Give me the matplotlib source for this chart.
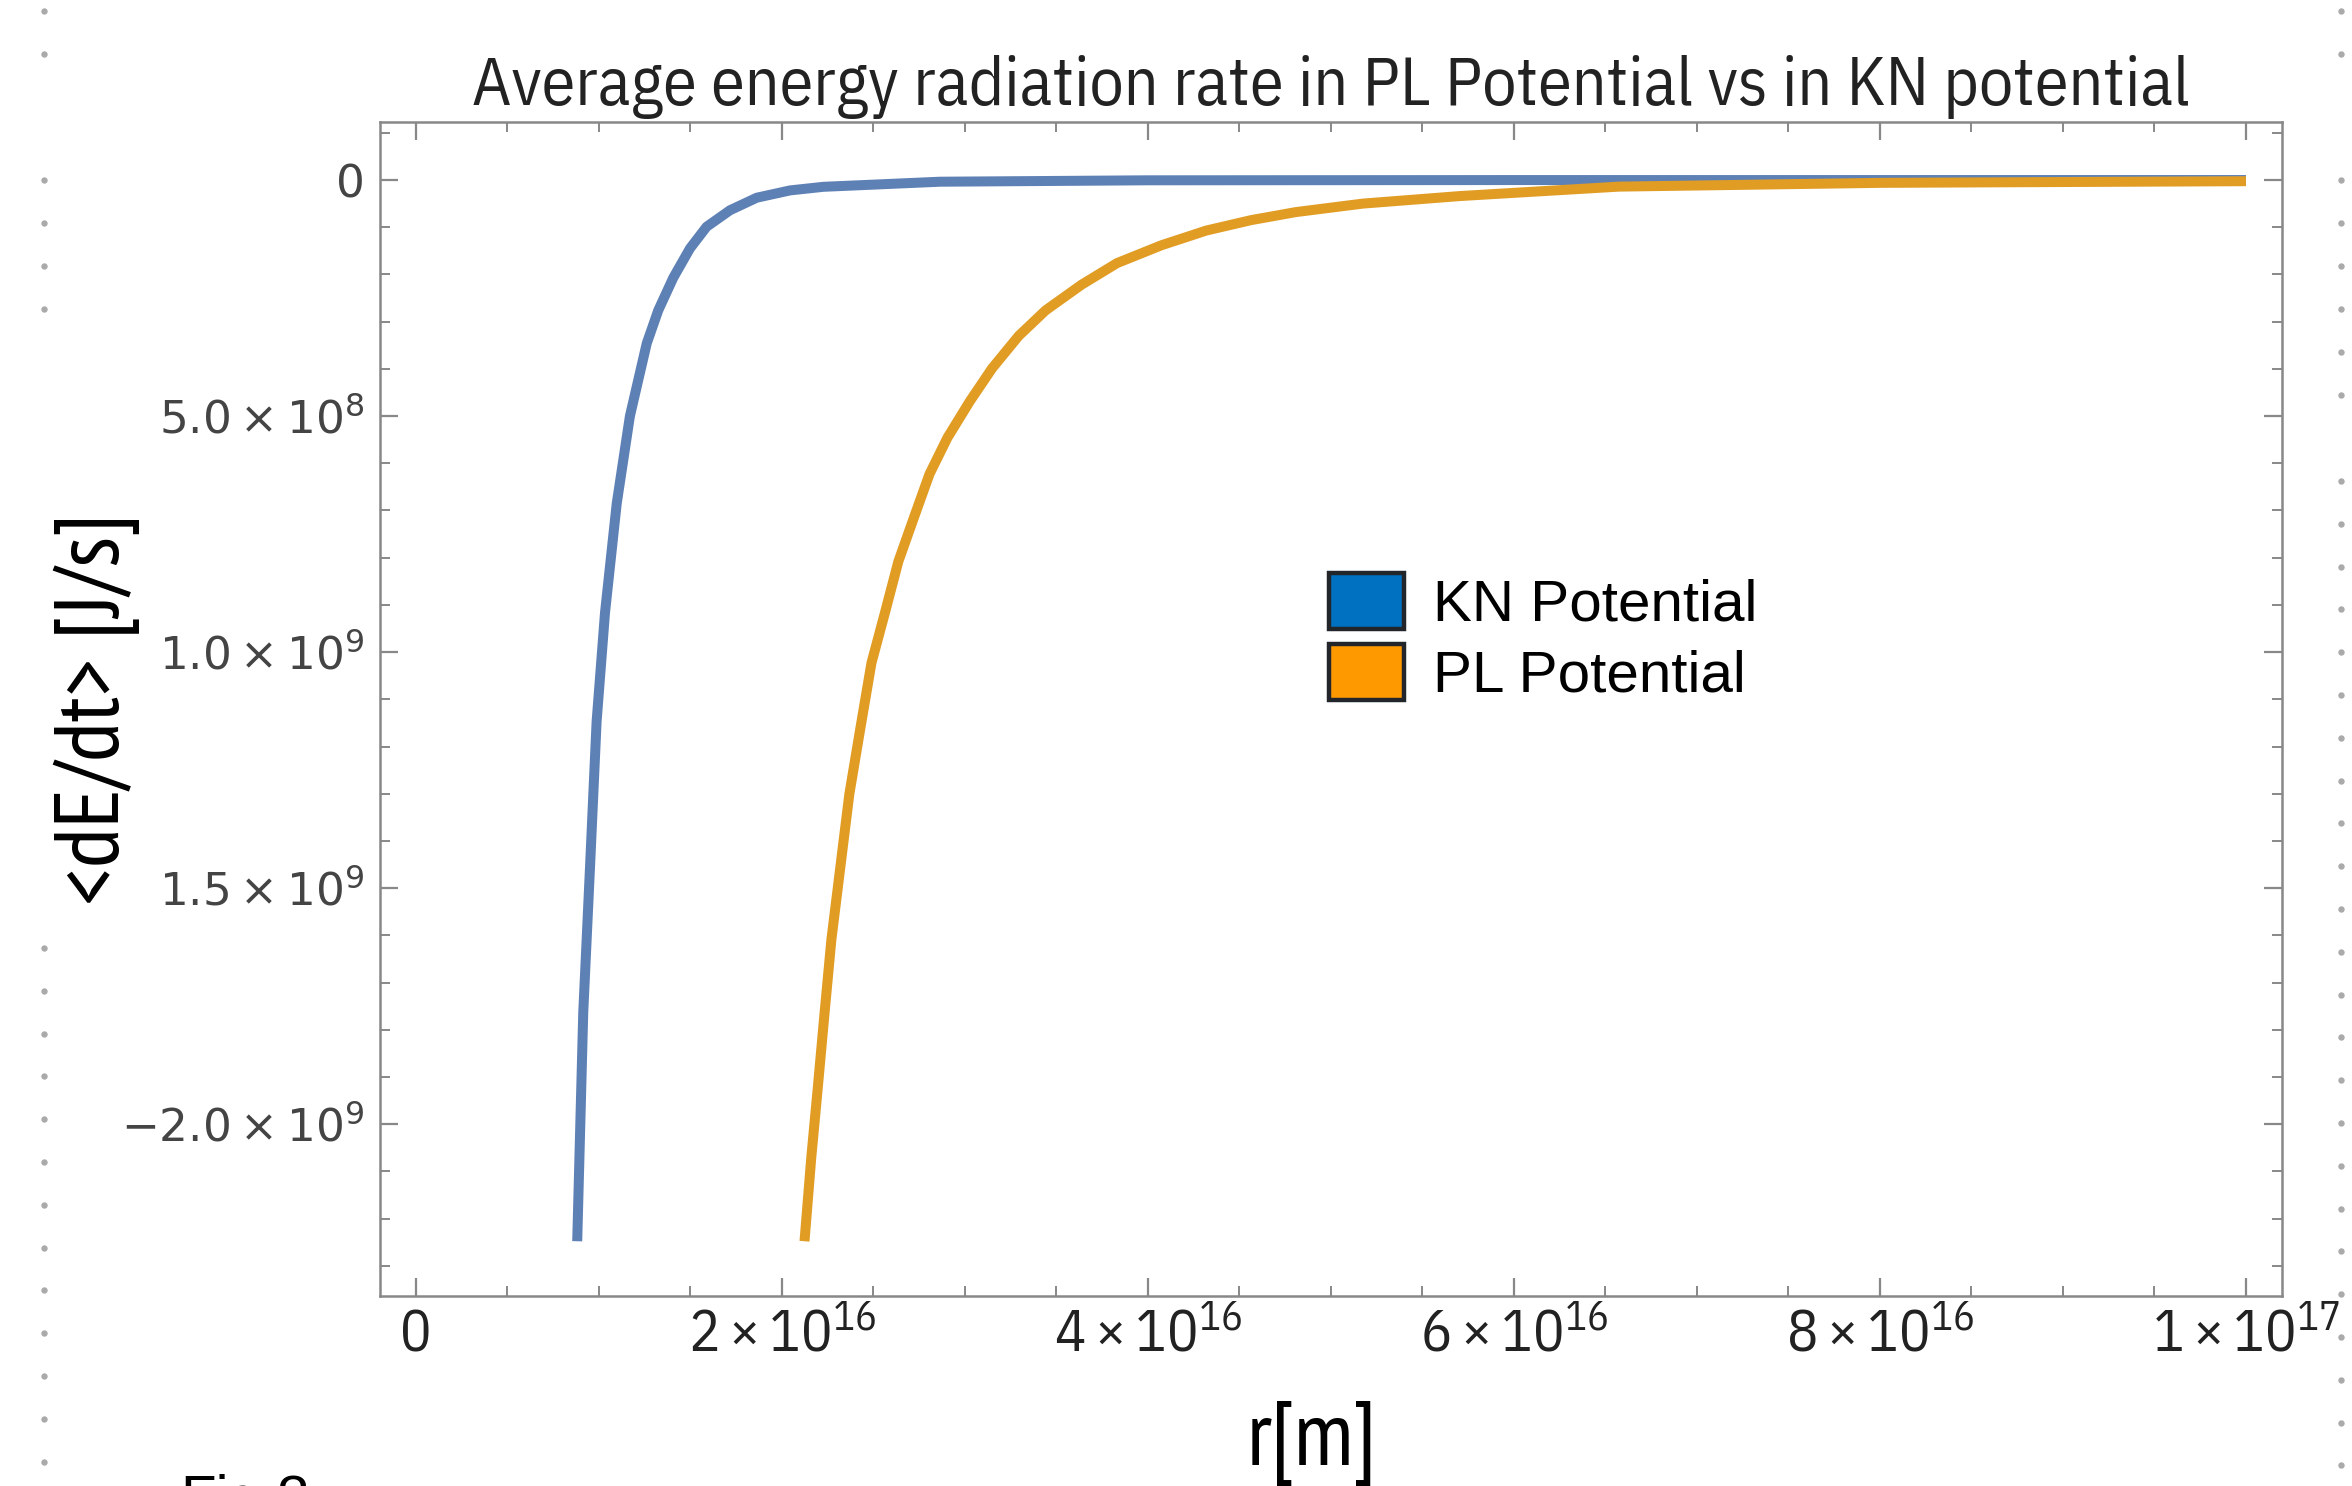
import numpy as np
import matplotlib
matplotlib.use("Agg")
import matplotlib.pyplot as plt
from matplotlib.patches import Patch
from matplotlib.lines import Line2D

# r [m] and <dE/dt> [J/s]
kn_r = [8.81e15, 9.14e15, 9.51e15, 9.87e15, 1.033e16, 1.097e16, 1.169e16, 1.261e16,
        1.324e16, 1.406e16, 1.497e16, 1.588e16, 1.716e16, 1.862e16, 2.044e16, 2.226e16,
        2.863e16, 4.0e16, 6.0e16, 1.0e17]
kn_dedt = [-2.248e9, -1.763e9, -1.455e9, -1.147e9, -9.16e8, -6.85e8, -5.0e8, -3.46e8,
           -2.76e8, -2.07e8, -1.45e8, -9.9e7, -6.4e7, -3.75e7, -2.2e7, -1.44e7,
           -3.6e6, -6e5, -8e4, -5e3]

pl_r = [2.123e16, 2.160e16, 2.197e16, 2.233e16, 2.270e16, 2.319e16, 2.368e16, 2.428e16,
        2.489e16, 2.563e16, 2.636e16, 2.721e16, 2.806e16, 2.904e16, 3.026e16, 3.148e16,
        3.294e16, 3.441e16, 3.636e16, 3.831e16, 4.075e16, 4.319e16, 4.563e16, 4.807e16,
        5.173e16, 5.704e16, 6.573e16, 8.0e16, 1.0e17]
pl_dedt = [-2.248e9, -2.071e9, -1.917e9, -1.763e9, -1.609e9, -1.455e9, -1.301e9, -1.162e9,
           -1.023e9, -9.16e8, -8.08e8, -7.15e8, -6.23e8, -5.46e8, -4.69e8, -3.99e8,
           -3.30e8, -2.76e8, -2.22e8, -1.76e8, -1.38e8, -1.07e8, -8.5e7, -6.8e7,
           -5.0e7, -3.4e7, -1.4e7, -6e6, -2.5e6]

xticks = [0, 2e16, 4e16, 6e16, 8e16, 1e17]
xtick_labels = ['0', r'$2\times10^{16}$', r'$4\times10^{16}$', r'$6\times10^{16}$',
                r'$8\times10^{16}$', r'$1\times10^{17}$']
yticks = [0, -5e8, -1e9, -1.5e9, -2e9]
ytick_labels = ['0', r'$5.0\times10^{8}$', r'$1.0\times10^{9}$', r'$1.5\times10^{9}$',
                r'$-2.0\times10^{9}$']

cond = 'IBM Plex Sans Condensed'
narrow = 'PT Sans Narrow'
plt.rcParams['mathtext.fontset'] = 'custom'
plt.rcParams['mathtext.rm'] = cond
plt.rcParams['mathtext.it'] = cond + ':italic'
plt.rcParams['mathtext.bf'] = cond + ':bold'

fig = plt.figure(figsize=(11.76, 7.43), dpi=200)
ax = fig.add_axes([380 / 2352, 1 - 1296 / 1486, 1902 / 2352, 1174 / 1486])

ax.plot(kn_r, kn_dedt, color='#5E81B5', lw=3.6, solid_capstyle='butt', solid_joinstyle='round')
ax.plot(pl_r, pl_dedt, color='#E19C24', lw=3.6, solid_capstyle='butt', solid_joinstyle='round')

ax.set_xlim(-1.967e15, 1.0197e17)
ax.set_ylim(-2.364e9, 1.229e8)

ax.set_xticks(xticks)
ax.set_xticklabels(xtick_labels, fontsize=21, color='#222222', family=cond)
ax.set_xticks(np.arange(0, 1.01e17, 5e15), minor=True)
ax.set_yticks(yticks)
ylabs = ax.set_yticklabels(ytick_labels, fontsize=16.3, color='#444444')
for t in ylabs:
    t.set_math_fontfamily('dejavusans')
ax.set_yticks(np.arange(-2.3e9, 1.01e8, 1e8), minor=True)

ax.tick_params(which='both', direction='in', top=True, right=True, color='#888888')
ax.tick_params(which='major', length=6.5, width=0.8)
ax.tick_params(which='minor', length=3.6, width=0.7)
ax.tick_params(axis='x', pad=4.5)
ax.tick_params(axis='y', pad=5.5)
for s in ax.spines.values():
    s.set_color('#888888')
    s.set_linewidth(0.9)

ax.set_title('Average energy radiation rate in PL Potential vs in KN potential',
             fontsize=24.5, family=cond, color='#222222', pad=6)
ax.set_xlabel('r[m]', fontsize=33, family=narrow, va='center')
ax.set_ylabel('<dE/dt> [J/s]', fontsize=33, family=narrow, va='center')
ax.xaxis.set_label_coords(0.49, -0.126)
ax.yaxis.set_label_coords(-0.1488, 0.5)

handles = [Patch(facecolor='#0070C0', edgecolor='#22262b', lw=1.6),
           Patch(facecolor='#FF9900', edgecolor='#22262b', lw=1.6)]
fig.legend(handles, ['KN Potential', 'PL Potential'], loc='upper left',
           bbox_to_anchor=(1329 / 2352, 1 - 573 / 1486), frameon=False,
           prop={'family': 'Liberation Sans', 'size': 21}, borderpad=0,
           borderaxespad=0, handlelength=1.29, handleheight=1.095,
           handletextpad=0.5, labelspacing=0.19)

# notebook cell dots along the edges
left_y = np.concatenate([[11, 54], 180 + 43 * np.arange(4), 948 + 42.8 * np.arange(13)])
right_y = np.concatenate([[11, 54], 180 + 43 * np.arange(6), 481 + 42.8 * np.arange(24)])
fig.add_artist(Line2D(np.full(len(left_y), 44 / 2352), 1 - left_y / 1486,
                      transform=fig.transFigure, ls='none', marker='o', ms=2.3,
                      color='#aaaaaa', mec='none'))
fig.add_artist(Line2D(np.full(len(right_y), 2341 / 2352), 1 - right_y / 1486,
                      transform=fig.transFigure, ls='none', marker='o', ms=2.3,
                      color='#aaaaaa', mec='none'))

fig.text(180 / 2352, 1 - 1474 / 1486, 'Fig.3', family='Liberation Sans', fontsize=21,
         va='top', ha='left')

fig.savefig('out.png', dpi=200)
